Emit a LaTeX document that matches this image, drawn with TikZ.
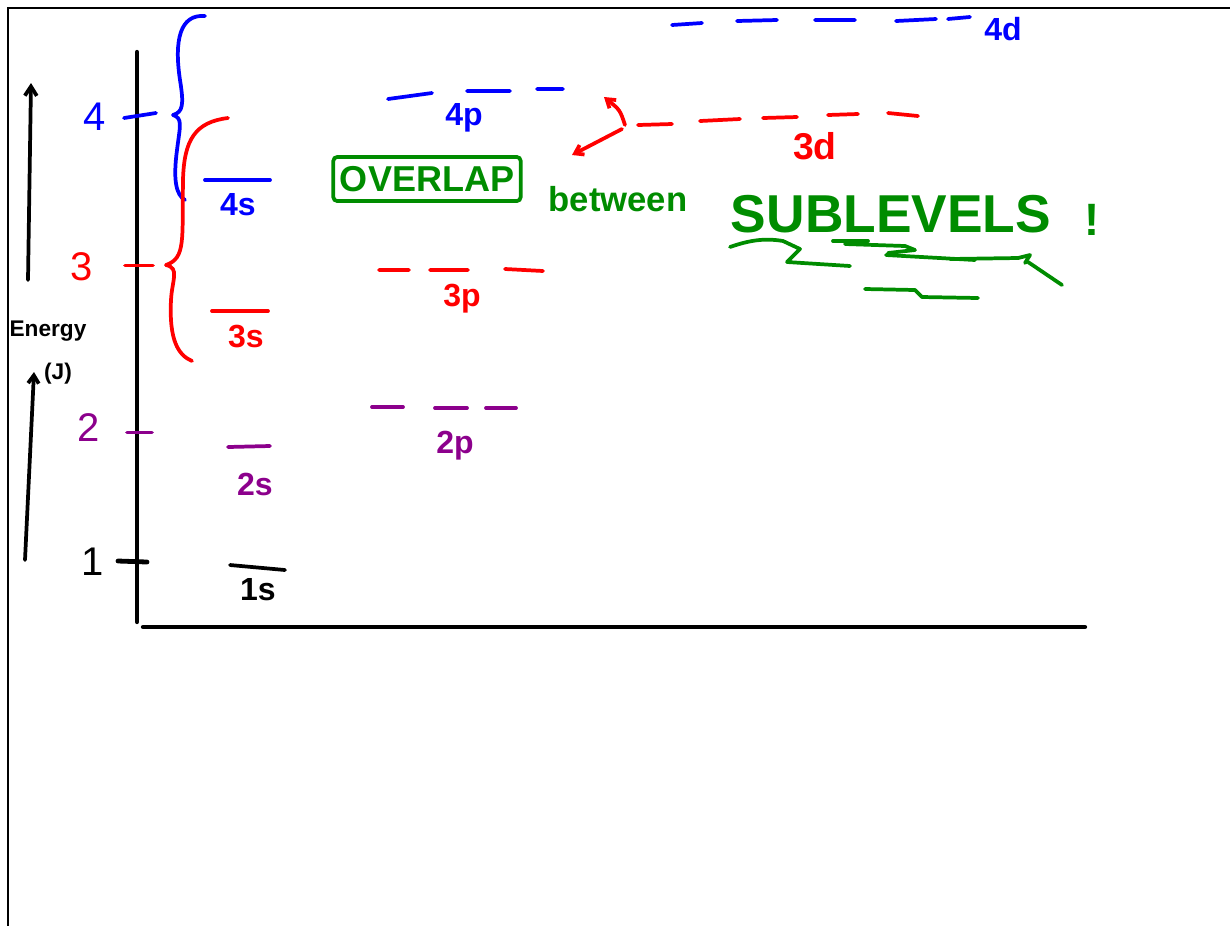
\documentclass[tikz,border=0pt]{standalone}
\usepackage{fontspec}
\setmainfont{Liberation Sans}
\usepackage{tikz}
\usetikzlibrary{arrows.meta}

\begin{document}
\begin{tikzpicture}[x=0.75pt,y=0.75pt,yscale=-1,xscale=1,
	ink/.style={line width=2.8pt, line cap=round, line join=round},
	blueink/.style={ink, draw={rgb, 255:red, 0; green, 0; blue, 255 }},
	redink/.style={ink, draw={rgb, 255:red, 255; green, 0; blue, 0 }},
	purpleink/.style={ink, draw={rgb, 255:red, 140; green, 0; blue, 140 }},
	greenink/.style={ink, draw={rgb, 255:red, 0; green, 140; blue, 0 }},
	blacktext/.style={inner sep=0.75pt, font=\fontsize{24}{24}\selectfont\bfseries},
	bluetext/.style={blacktext, text={rgb, 255:red, 0; green, 0; blue, 255 }},
	redtext/.style={blacktext, text={rgb, 255:red, 255; green, 0; blue, 0 }},
	purpletext/.style={blacktext, text={rgb, 255:red, 140; green, 0; blue, 140 }},
	greentext/.style={blacktext, text={rgb, 255:red, 0; green, 140; blue, 0 }}]
			\useasboundingbox (0,0) rectangle (1230,926);
			
			%Page frame
			\draw [line width=2pt] (1230,8) -- (8,8) -- (8,926) ;
			%Axes
			\draw [line width=3.2pt, line cap=round] (137,52) -- (137,622) ;
			\draw [line width=3.2pt, line cap=round] (143,627) -- (1085,627) ;
			%Energy arrow
			\draw [ink, -{Straight Barb[length=7pt,width=9pt]}] (28,280) -- (31,83) ;
			\draw [ink, -{Straight Barb[length=6pt,width=8pt]}] (25,560) -- (34,372) ;
			
			%Ticks
			\draw [blueink] (124,118) -- (156,113) ;
			\draw [redink] (125,265.5) -- (153,265.5) ;
			\draw [purpleink] (127,432.5) -- (152,432.5) ;
			\draw [ink, line width=3.6pt] (118,561) -- (147,562) ;
			
			%Shape: Brace n=4
			\draw [blueink] (205,16) .. controls (180,14) and (174,40) .. (180,80) .. controls (184,105) and (183,112) .. (173,115) .. controls (183,118) and (180,126) .. (177,150) .. controls (173,180) and (176,195) .. (185,200) ;
			%Shape: Brace n=3
			\draw [redink] (228,118) .. controls (195,122) and (184,140) .. (183,180) .. controls (182,240) and (186,258) .. (166,265) .. controls (180,268) and (172,280) .. (171,300) .. controls (169,340) and (178,355) .. (192,361) ;
			
			%Level 1s
			\draw [ink] (230,565) -- (285,570) ;
			%Level 2s
			\draw [purpleink] (228,447) -- (270,446) ;
			%Levels 2p
			\draw [purpleink] (372,407) -- (403,407) (435,408) -- (467,408) (486,408) -- (516,408) ;
			%Level 3s
			\draw [redink] (212,311) -- (268,311) ;
			%Levels 3p
			\draw [redink] (379,270) -- (409,270) (430,270) -- (468,270) (505,269) -- (543,271) ;
			%Level 4s
			\draw [blueink] (205,180) -- (270,180) ;
			%Levels 4p
			\draw [blueink] (388,99) -- (432,93) (467,91) -- (510,91) (537,89) -- (563,89) ;
			%Levels 3d
			\draw [redink] (638,125) -- (672,124) (700,121) -- (740,119) (763,118) -- (797,117) (828,115) -- (858,114) (888,113) -- (918,116) ;
			%Levels 4d
			\draw [blueink] (672,25) -- (702,23) (737,21) -- (777,20) (815,20) -- (855,20) (896,21) -- (936,19) (948,19) -- (970,17) ;
			
			%Overlap arrows
			\coordinate (fork) at (625,125) ;
			\coordinate (tofourp) at (604,97) ;
			\coordinate (tofours) at (572,155) ;
			\draw [redink, -{Straight Barb[length=6pt,width=8pt]}] (fork) .. controls (620,110) .. (tofourp) ;
			\draw [redink, -{Straight Barb[length=6pt,width=8pt]}] ([shift={(-3,4)}]fork) -- (tofours) ;
			
			% Text Node
			\draw (95,117) node [bluetext, font=\fontsize{30}{30}\selectfont] (nfour) {4};
			% Text Node
			\draw (82,267) node [redtext, font=\fontsize{30}{30}\selectfont] (nthree) {3};
			% Text Node
			\draw (89,428) node [purpletext, font=\fontsize{30}{30}\selectfont] (ntwo) {2};
			% Text Node
			\draw (93,562) node [blacktext, font=\fontsize{30}{30}\selectfont] (none) {1};
			% Text Node
			\draw (238,205) node [bluetext] (ls4s) {4s};
			% Text Node
			\draw (246,336) node [redtext] (ls3s) {3s};
			% Text Node
			\draw (255,484) node [purpletext] (ls2s) {2s};
			% Text Node
			\draw (258,590) node [blacktext] (ls1s) {1s};
			% Text Node
			\draw (464,118) node [bluetext] (ls4p) {4p};
			% Text Node
			\draw (462,299) node [redtext] (ls3p) {3p};
			% Text Node
			\draw (455,446) node [purpletext] (ls2p) {2p};
			% Text Node
			\draw (815,146) node [redtext, font=\fontsize{28}{28}\selectfont\bfseries] (ls3d) {3d};
			% Text Node
			\draw (1003,29) node [bluetext] (ls4d) {4d};
			% Text Node
			\draw (48,331) node [blacktext, font=\fontsize{17}{17}\selectfont\bfseries] (energy) {Energy};
			% Text Node
			\draw (58,374) node [blacktext, font=\fontsize{17}{17}\selectfont\bfseries] (unit) {(J)};
			
			% Text Node
			\draw (427,179) node [greentext, font=\fontsize{27}{27}\selectfont\bfseries, draw={rgb, 255:red, 0; green, 140; blue, 0 }, line width=2.8pt, rounded corners=3pt, inner xsep=5pt, inner ysep=7pt] (overlap) {OVERLAP};
			% Text Node
			\draw (618,199) node [greentext, font=\fontsize{26}{26}\selectfont\bfseries] (between) {between};
			% Text Node
			\draw (891,214) node [greentext, font=\fontsize{40}{40}\selectfont\bfseries] (sublevels) {SUBLEVELS};
			% Text Node
			\draw (1092,220) node [greentext, font=\fontsize{34}{34}\selectfont\bfseries] (bang) {!};
			
			%Scribbles under SUBLEVELS
			\draw [greenink] (730,247) .. controls (750,240) and (765,238) .. (783,241) -- (800,249) -- (787,262) -- (850,266) ;
			\draw [greenink] (833,241) -- (868,241) ;
			\draw [greenink] (845,244) -- (905,246) -- (915,250) -- (888,253) ;
			\draw [greenink] (886,255) -- (975,260) ;
			\draw [greenink] (950,259) -- (1018,258) -- (1030,255) -- (1025,263) ;
			\draw [greenink] (1028,262) -- (1062,285) ;
			\draw [greenink] (865,289) -- (915,290) -- (922,297) -- (978,298) ;
\end{tikzpicture}
\end{document}
